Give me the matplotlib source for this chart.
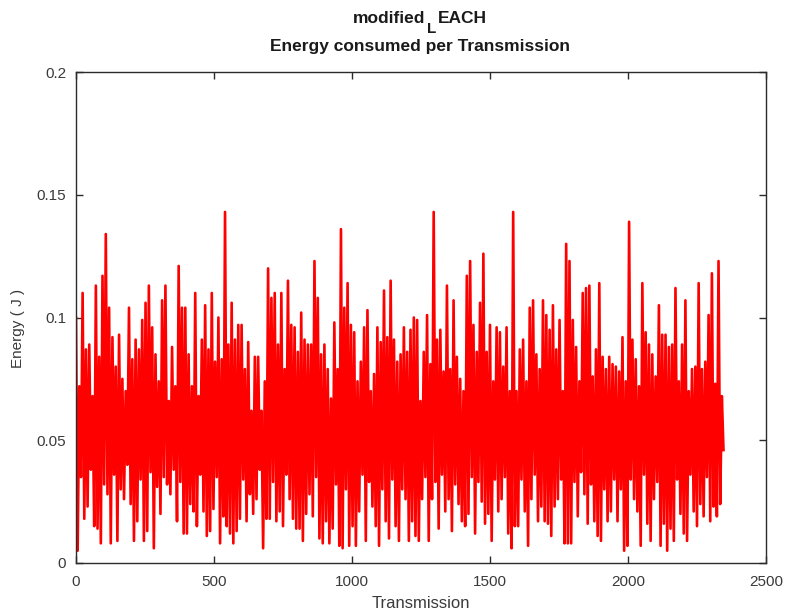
import matplotlib
matplotlib.use("Agg")
import matplotlib.pyplot as plt
import numpy as np

# energy per transmission (one value every 6 transmissions,
# alternating the upper and lower swing of the trace)
energy = [
    # 0 - 390
    0.100, 0.005, 0.072, 0.035, 0.110, 0.018, 0.087, 0.023, 0.089, 0.038,
    0.068, 0.015, 0.113, 0.014, 0.084, 0.008, 0.117, 0.032, 0.134, 0.028,
    0.104, 0.008, 0.092, 0.036, 0.080, 0.009, 0.093, 0.030, 0.075, 0.026,
    0.070, 0.040, 0.104, 0.024, 0.083, 0.009, 0.091, 0.017, 0.087, 0.034,
    0.099, 0.009, 0.106, 0.013, 0.113, 0.037, 0.096, 0.006, 0.085, 0.031,
    0.074, 0.020, 0.107, 0.035, 0.113, 0.032, 0.066, 0.028, 0.088, 0.038,
    0.072, 0.017, 0.121, 0.033, 0.104, 0.012,
    # 390 - 790
    0.104, 0.012, 0.085, 0.024, 0.072, 0.021, 0.110, 0.015, 0.068, 0.036,
    0.091, 0.021, 0.105, 0.011, 0.087, 0.013, 0.110, 0.022, 0.082, 0.035,
    0.100, 0.008, 0.083, 0.019, 0.143, 0.015, 0.089, 0.012, 0.106, 0.008,
    0.091, 0.013, 0.097, 0.018, 0.097, 0.034, 0.079, 0.017, 0.090, 0.028,
    0.062, 0.020, 0.084, 0.026, 0.084, 0.038, 0.062, 0.006, 0.074, 0.018,
    0.120, 0.018, 0.108, 0.033, 0.110, 0.017, 0.089, 0.021, 0.110, 0.015,
    0.079, 0.036, 0.115, 0.026, 0.097, 0.018,
    # 790 - 1180
    0.096, 0.014, 0.086, 0.014, 0.102, 0.009, 0.091, 0.020, 0.089, 0.028,
    0.089, 0.019, 0.123, 0.035, 0.108, 0.010, 0.085, 0.008, 0.089, 0.017,
    0.079, 0.008, 0.067, 0.014, 0.098, 0.032, 0.079, 0.007, 0.136, 0.006,
    0.104, 0.030, 0.114, 0.007, 0.097, 0.015, 0.094, 0.007, 0.074, 0.021,
    0.082, 0.036, 0.096, 0.009, 0.103, 0.033, 0.070, 0.023, 0.077, 0.015,
    0.096, 0.007, 0.090, 0.030, 0.111, 0.017, 0.092, 0.010, 0.115, 0.034,
    0.091, 0.015, 0.082, 0.009, 0.085, 0.030,
    # 1180 - 1580
    0.096, 0.026, 0.086, 0.009, 0.095, 0.017, 0.100, 0.011, 0.099, 0.009,
    0.066, 0.026, 0.086, 0.035, 0.101, 0.009, 0.081, 0.026, 0.143, 0.033,
    0.091, 0.014, 0.095, 0.036, 0.078, 0.021, 0.113, 0.026, 0.079, 0.013,
    0.107, 0.032, 0.084, 0.024, 0.075, 0.017, 0.070, 0.015, 0.117, 0.020,
    0.123, 0.035, 0.097, 0.012, 0.086, 0.033, 0.106, 0.025, 0.126, 0.016,
    0.086, 0.020, 0.097, 0.009, 0.074, 0.034, 0.096, 0.021, 0.094, 0.026,
    0.080, 0.035, 0.096, 0.012, 0.070, 0.006,
    # 1580 - 1970
    0.143, 0.015, 0.070, 0.015, 0.087, 0.034, 0.091, 0.021, 0.074, 0.007,
    0.104, 0.026, 0.107, 0.036, 0.085, 0.017, 0.079, 0.023, 0.107, 0.017,
    0.101, 0.016, 0.095, 0.011, 0.105, 0.023, 0.087, 0.026, 0.099, 0.034,
    0.070, 0.008, 0.130, 0.008, 0.123, 0.008, 0.099, 0.033, 0.088, 0.019,
    0.074, 0.037, 0.110, 0.028, 0.112, 0.016, 0.113, 0.032, 0.076, 0.017,
    0.087, 0.011, 0.114, 0.009, 0.084, 0.030, 0.079, 0.017, 0.084, 0.021,
    0.081, 0.034, 0.080, 0.017, 0.078, 0.030,
    # 1970 - 2346
    0.092, 0.005, 0.074, 0.007, 0.139, 0.034, 0.091, 0.026, 0.083, 0.021,
    0.072, 0.007, 0.114, 0.036, 0.094, 0.016, 0.089, 0.009, 0.085, 0.026,
    0.076, 0.033, 0.105, 0.007, 0.093, 0.016, 0.093, 0.005, 0.088, 0.014,
    0.089, 0.009, 0.112, 0.034, 0.074, 0.020, 0.089, 0.012, 0.107, 0.009,
    0.070, 0.036, 0.079, 0.021, 0.080, 0.015, 0.114, 0.024, 0.079, 0.019,
    0.082, 0.035, 0.101, 0.017, 0.118, 0.023, 0.073, 0.019, 0.123, 0.024,
    0.068, 0.046,
]
step = 6

x_ticks = [0, 500, 1000, 1500, 2000, 2500]
y_ticks = [0, 0.05, 0.1, 0.15, 0.2]
y_tick_labels = ['0', '0.05', '0.1', '0.15', '0.2']

plt.rcParams['font.family'] = ['Liberation Sans', 'DejaVu Sans']

W, H = 785, 612
fig = plt.figure(figsize=(W / 100, H / 100), dpi=100)
ax = fig.add_axes([76 / W, 49 / H, 690 / W, 491 / H])

xs = np.arange(len(energy)) * step
ax.plot(xs, energy, color='red', linewidth=1.9)

ax.set_xlim(0, 2500)
ax.set_ylim(0, 0.2)
ax.set_xticks(x_ticks)
ax.set_xticklabels([str(t) for t in x_ticks])
ax.set_yticks(y_ticks)
ax.set_yticklabels(y_tick_labels)

edge = '#2b2b2b'
for s in ax.spines.values():
    s.set_color(edge)
    s.set_linewidth(1.0)
ax.tick_params(direction='in', length=5, width=1, color=edge,
               top=True, right=True, labelsize=11, labelcolor='#3a3a3a')
ax.tick_params(axis='x', pad=9)
ax.tick_params(axis='y', pad=7)

ax.set_xlabel('Transmission', fontsize=12, color='#3a3a3a', va='center')
ax.xaxis.set_label_coords(0.5, (563 - 603) / 491)
ax.set_ylabel('Energy ( J )', fontsize=11, color='#3a3a3a', va='center')
ax.yaxis.set_label_coords((18 - 76) / 690, (563 - 328) / 491)

# title: "modified_LEACH" rendered with a dropped L, then the second line
tkw = dict(fontweight='bold', color='#1a1a1a', va='baseline', ha='left')
fig.text(353 / W, 1 - 23 / H, 'modified', fontsize=12.5, **tkw)
fig.text(427 / W, 1 - 33 / H, 'L', fontsize=11, **tkw)
fig.text(438 / W, 1 - 23 / H, 'EACH', fontsize=12.5, **tkw)
fig.text(419.5 / W, 1 - 46 / H, 'Energy consumed per Transmission', ha='center',
         va='center', fontsize=12.5, fontweight='bold', color='#1a1a1a')

fig.savefig('out.png', dpi=100)
